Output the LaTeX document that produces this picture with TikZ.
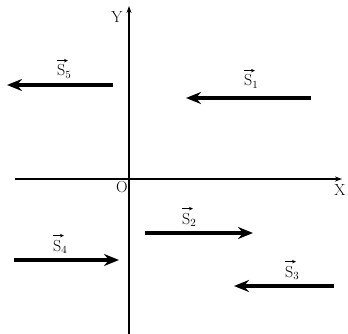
\documentclass[tikz,border=0pt]{standalone}
\usetikzlibrary{arrows.meta}
\begin{document}
\begin{tikzpicture}[x=1pt,y=-1pt,
  axis/.style={line width=1.2pt,-{Stealth[length=7pt,width=5pt]}},
  vec/.style={line width=4pt,-{Stealth[length=15pt,width=12pt,inset=5pt]}},
  lbl/.style={font=\fontsize{16}{18}\selectfont,inner sep=0pt},
  over/.style={line width=0.8pt,-{Stealth[length=4pt,width=3.5pt]}}]
\useasboundingbox (0,0) rectangle (348,334);
% axes
\coordinate (xs) at (15,179);
\coordinate (xe) at (342,179);
\coordinate (ys) at (129,334);
\coordinate (ye) at (129,6);
\draw[axis] (xs) -- (xe);
\draw[axis] (ys) -- (ye);
\node[lbl] (X) at (340,190) {X};
\node[lbl] (Y) at (117,17) {Y};
\node[lbl] (O) at (122,187) {O};
% vectors
\coordinate (a1) at (311,98);  \coordinate (b1) at (186,98);
\coordinate (a2) at (145,233); \coordinate (b2) at (253,233);
\coordinate (a3) at (334,286); \coordinate (b3) at (234,286);
\coordinate (a4) at (14,260);  \coordinate (b4) at (119,260);
\coordinate (a5) at (113,85);  \coordinate (b5) at (7,85);
\draw[vec] (a1) -- (b1);
\draw[vec] (a2) -- (b2);
\draw[vec] (a3) -- (b3);
\draw[vec] (a4) -- (b4);
\draw[vec] (a5) -- (b5);
\foreach \n/\p in {1/{(244,86)},2/{(182,224)},3/{(285,277)},4/{(53,251)},5/{(57,76)}}{
  \node[lbl,anchor=base west] (l\n) at \p {S$_{\n}$};
}
\foreach \n in {1,...,5}{
  \draw[over] ([xshift=0pt,yshift=4pt]l\n.north west) -- ([xshift=11pt,yshift=4pt]l\n.north west);
}
\end{tikzpicture}
\end{document}
